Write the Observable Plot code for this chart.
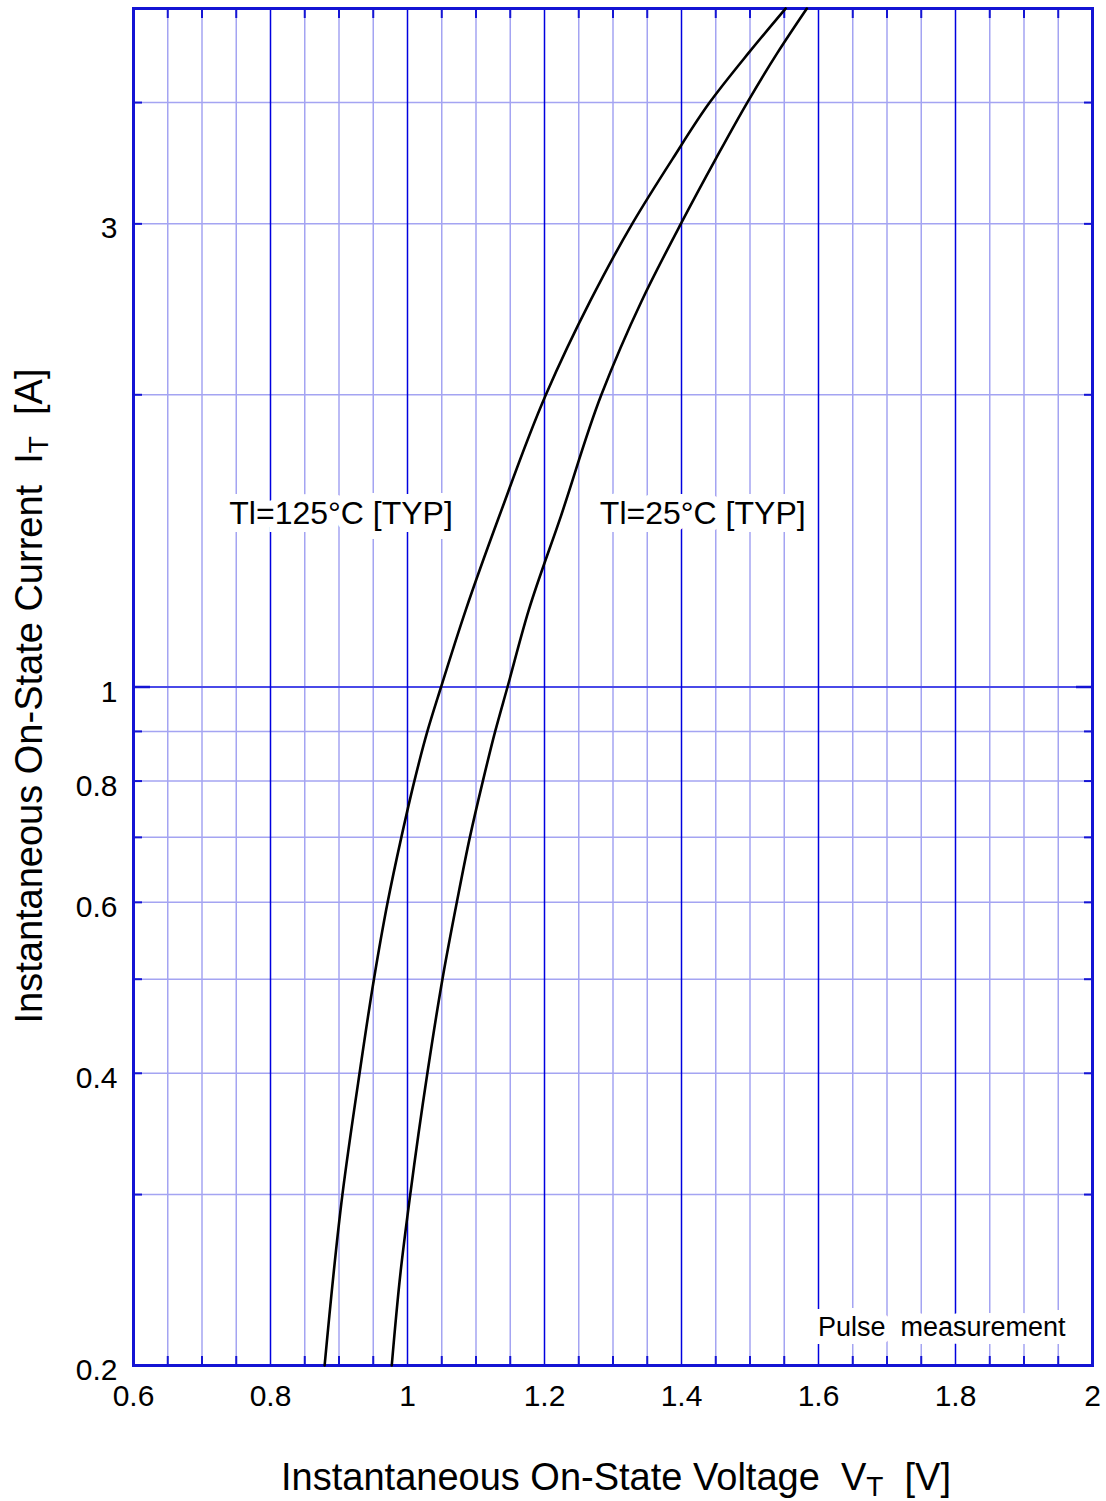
<!DOCTYPE html>
<html><head><meta charset="utf-8">
<script src="https://cdn.jsdelivr.net/npm/d3@7"></script>
<script src="https://cdn.jsdelivr.net/npm/@observablehq/plot@0.6"></script>
<style>
body{margin:0;background:#fff}
svg{display:block}
</style>
</head><body><div id="chart"></div>
<script>
// Tl = 125 °C typical curve (current A, voltage V)
const current125 = [0.2, 0.3, 0.4, 0.5, 0.6, 0.7, 0.8, 0.9, 1.0, 1.2, 1.5, 2.0, 2.5, 3.0, 3.5, 4.0, 4.5, 5.0];
const voltage125 = [0.879, 0.905, 0.930, 0.951, 0.971, 0.991, 1.010, 1.029, 1.049, 1.085, 1.134, 1.202, 1.267, 1.328, 1.387, 1.441, 1.498, 1.552];
// Tl = 25 °C typical curve
const current25 = [0.2, 0.25, 0.3, 0.4, 0.5, 0.6, 0.7, 0.8, 0.9, 1.0, 1.2, 1.5, 2.0, 2.5, 3.0, 3.5, 4.0, 4.5, 5.0];
const voltage25 = [0.977, 0.990, 1.004, 1.029, 1.051, 1.072, 1.091, 1.110, 1.128, 1.146, 1.177, 1.224, 1.283, 1.342, 1.399, 1.450, 1.496, 1.540, 1.583];

const xTickLabels = [0.6, 0.8, 1, 1.2, 1.4, 1.6, 1.8, 2];
const xMinorGrid = [0.65, 0.7, 0.75, 0.85, 0.9, 0.95, 1.05, 1.1, 1.15, 1.25, 1.3, 1.35, 1.45, 1.5, 1.55, 1.65, 1.7, 1.75, 1.85, 1.9, 1.95];
const xMajorGrid = [0.8, 1, 1.2, 1.4, 1.6, 1.8];
const yTickLabels = [0.2, 0.4, 0.6, 0.8, 1, 3];
const yMinorGrid = [0.3, 0.4, 0.5, 0.6, 0.7, 0.8, 0.9, 2, 3, 4];
const yMajorGrid = [1];

const annotations = [
  {text: "Tl=125°C [TYP]", v: 0.903, i: 1.51, size: 32},
  {text: "Tl=25°C [TYP]", v: 1.431, i: 1.51, size: 32},
  {text: "Pulse  measurement", v: 1.780, i: 0.219, size: 27}
];

const curves = [
  ...current125.map((c, k) => ({series: "125", i: c, v: voltage125[k]})),
  ...current25.map((c, k) => ({series: "25", i: c, v: voltage25[k]}))
];

const FONT = "'Liberation Sans', Arial, sans-serif";
const LIGHT = "#a4a4f2";
const DARK = "#1414d4";

const chart = Plot.plot({
  width: 1106,
  height: 1501,
  marginLeft: 133,
  marginRight: 14,
  marginTop: 8,
  marginBottom: 136,
  style: {fontFamily: FONT, background: "#fff", color: "#000"},
  x: {domain: [0.6, 2]},
  y: {type: "log", domain: [0.2, 5]},
  marks: [
    Plot.ruleX(xMinorGrid, {stroke: LIGHT, strokeWidth: 1.5}),
    Plot.ruleY(yMinorGrid, {stroke: LIGHT, strokeWidth: 1.5}),
    Plot.ruleY(yMajorGrid, {stroke: "#4a4ae8", strokeWidth: 2.2}),
    Plot.ruleX(xMajorGrid, {stroke: "#0000e0", strokeWidth: 1.5}),
    // inward tick marks
    Plot.axisX(xMinorGrid, {anchor: "bottom", tickSize: -9, fill: "none", stroke: DARK, strokeWidth: 2, label: null}),
    Plot.axisX(xMinorGrid, {anchor: "top", tickSize: -9, fill: "none", stroke: DARK, strokeWidth: 2, label: null}),
    Plot.axisY(yMinorGrid, {anchor: "left", tickSize: -9, fill: "none", stroke: DARK, strokeWidth: 2, label: null}),
    Plot.axisY(yMinorGrid, {anchor: "right", tickSize: -9, fill: "none", stroke: DARK, strokeWidth: 2, label: null}),
    Plot.axisY(yMajorGrid, {anchor: "left", tickSize: -17, fill: "none", stroke: DARK, strokeWidth: 2.5, label: null}),
    Plot.axisY(yMajorGrid, {anchor: "right", tickSize: -17, fill: "none", stroke: DARK, strokeWidth: 2.5, label: null}),
    // tick labels
    Plot.axisX(xTickLabels, {anchor: "bottom", tickSize: 0, tickPadding: 19, fontSize: 30, label: null, tickFormat: d => String(d)}),
    Plot.axisY(yTickLabels, {anchor: "left", tickSize: 0, tickPadding: 16, fontSize: 30, dy: 5, label: null, tickFormat: d => String(d)}),
    Plot.frame({stroke: DARK, strokeWidth: 3}),
    // annotations with white background
    Plot.text(annotations, {x: "v", y: "i", text: "text", fontSize: d => d.size, fill: "#000",
      stroke: "white", strokeWidth: 16, paintOrder: "stroke", strokeLinejoin: "miter", fontFamily: FONT}),
    // curves
    Plot.line(curves, {x: "v", y: "i", z: "series", stroke: "#000", strokeWidth: 2.6, curve: "monotone-y"})
  ]
});

const svg = d3.select(chart);
// X axis title with subscript
const xt = svg.append("text")
  .attr("x", 616).attr("y", 1490)
  .attr("text-anchor", "middle")
  .attr("font-family", FONT).attr("font-size", 38).attr("fill", "#000")
  .attr("xml:space", "preserve");
xt.append("tspan").text("Instantaneous On-State Voltage  V");
xt.append("tspan").attr("font-size", 28).attr("dy", 6).text("T");
xt.append("tspan").attr("dy", -6).text("  [V]");

// Y axis title with subscript
const yt = svg.append("text")
  .attr("transform", "translate(42,696) rotate(-90)")
  .attr("text-anchor", "middle")
  .attr("font-family", FONT).attr("font-size", 38).attr("fill", "#000")
  .attr("xml:space", "preserve");
yt.append("tspan").text("Instantaneous On-State Current  I");
yt.append("tspan").attr("font-size", 28).attr("dy", 6).text("T");
yt.append("tspan").attr("dy", -6).text("  [A]");

document.getElementById("chart").appendChild(chart);
</script>
</body></html>
